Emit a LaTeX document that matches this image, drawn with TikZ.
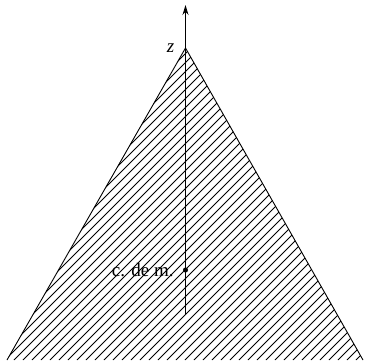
\documentclass[tikz,border=0pt]{standalone}
\usepackage{fontspec}
\setmainfont{Liberation Serif}
\usetikzlibrary{arrows.meta, positioning, calc}

\begin{document}
\begin{tikzpicture}[
    x=1pt, y=1pt,
    edge/.style={line width=0.9pt},
    hatch/.style={line width=0.8pt},
    axis/.style={-{Stealth[length=10pt, width=6pt]}, line width=1pt},
    lbl/.style={font=\fontsize{19}{21}\selectfont, inner sep=1pt}
]
    \useasboundingbox (0,0) rectangle (365,360);
    \coordinate (apex) at (185.5,312);
    \coordinate (left) at (7,0);
    \coordinate (right) at (363,0);

    % hatching
    \begin{scope}
        \clip (left) -- (apex) -- (right) -- cycle;
        \foreach \c in {-400,-391,...,400}
            \draw[hatch] (\c,0) -- ++(400,400);
    \end{scope}
    \draw[edge] (left) -- (apex) -- (right);

    % axis and centre of mass
    \coordinate (base) at (185.5,45);
    \coordinate (top) at (185.5,355);
    \draw[axis] (base) -- (top);
    \node[lbl, font=\fontsize{19}{21}\selectfont\itshape, left=10pt of apex] (z) {z};
    \node[circle, fill, inner sep=1.8pt] (cm) at (185.5,90) {};
    \node[lbl, left=8pt of cm] (cmlbl) {c. de m.};
\end{tikzpicture}
\end{document}
